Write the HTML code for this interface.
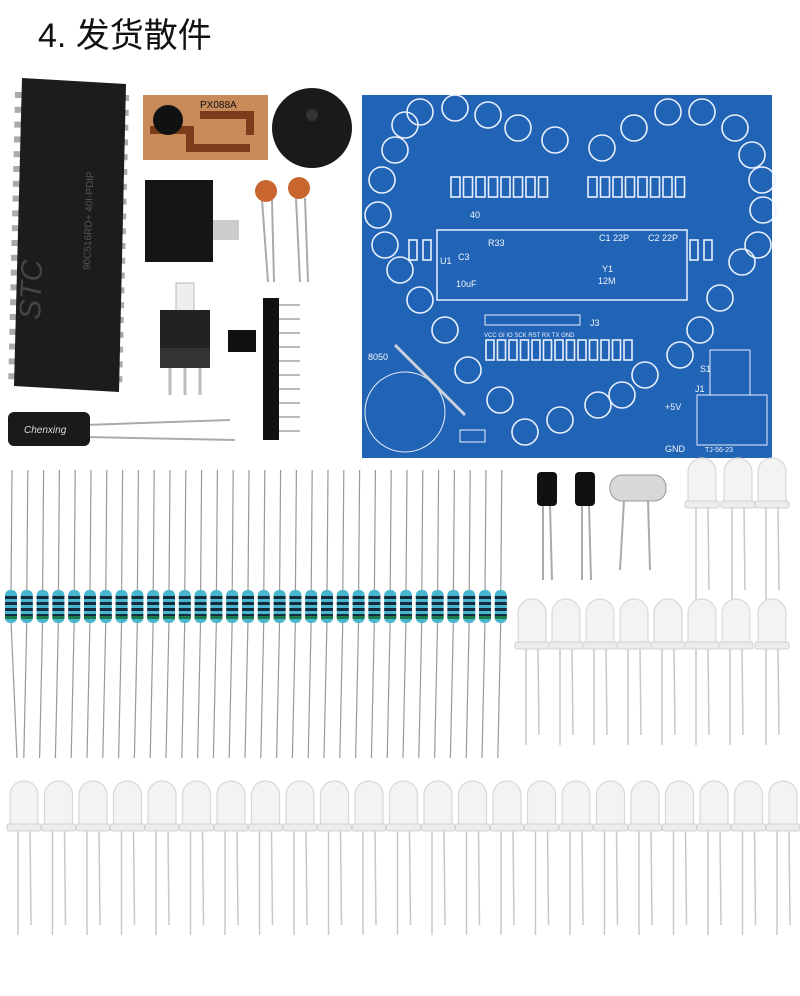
<!DOCTYPE html>
<html><head><meta charset="utf-8"><style>
html,body{margin:0;padding:0;background:#fff;width:800px;height:996px;overflow:hidden}
.t{position:absolute;left:38px;top:8px;font:34px "Liberation Sans","Noto Sans CJK SC",sans-serif;color:#111}
svg{position:absolute;left:0;top:0}
</style></head><body>
<svg id="s" width="800" height="996" viewBox="0 0 800 996" xmlns="http://www.w3.org/2000/svg">
<g id="chippins"></g>
<polygon points="22,78 126,84 119,392 14,386" fill="#1c1c1c"/>
<text x="0" y="0" transform="translate(40,320) rotate(-88)" font-family="Liberation Sans" font-size="30" font-style="italic" fill="#444">STC</text>
<text x="0" y="0" transform="translate(90,270) rotate(-88)" font-family="Liberation Sans" font-size="10" fill="#555">90C516RD+ 40I-PDIP</text>
<rect x="143" y="95" width="125" height="65" fill="#c98a5a"/>
<path d="M150 130 h40 v18 h60 M200 115 h50 v20" stroke="#7a3c1a" stroke-width="8" fill="none"/>
<circle cx="168" cy="120" r="15" fill="#111"/>
<text x="200" y="108" font-family="Liberation Sans" font-size="10" fill="#111">PX088A</text>
<circle cx="312" cy="128" r="40" fill="#1a1a1a"/>
<circle cx="312" cy="115" r="6" fill="#333"/>
<rect x="145" y="180" width="68" height="82" fill="#151515"/>
<rect x="213" y="220" width="26" height="20" fill="#ccc"/>
<line x1="262" y1="200" x2="268" y2="282" stroke="#aaa" stroke-width="2"/>
<line x1="272" y1="200" x2="274" y2="282" stroke="#aaa" stroke-width="2"/>
<circle cx="266" cy="191" r="11" fill="#c9652e"/>
<line x1="296" y1="198" x2="300" y2="282" stroke="#aaa" stroke-width="2"/>
<line x1="305" y1="198" x2="308" y2="282" stroke="#aaa" stroke-width="2"/>
<circle cx="299" cy="188" r="11" fill="#c9652e"/>
<rect x="176" y="283" width="18" height="30" fill="#eee" stroke="#bbb"/>
<rect x="160" y="310" width="50" height="40" fill="#222"/>
<rect x="160" y="348" width="50" height="20" fill="#333"/>
<line x1="170" y1="368" x2="170" y2="395" stroke="#bbb" stroke-width="3"/>
<line x1="185" y1="368" x2="185" y2="395" stroke="#bbb" stroke-width="3"/>
<line x1="200" y1="368" x2="200" y2="395" stroke="#bbb" stroke-width="3"/>
<rect x="228" y="330" width="28" height="22" fill="#111"/>
<rect x="263" y="298" width="16" height="142" fill="#111"/>
<g id="pins"></g>
<line x1="85" y1="425" x2="230" y2="420" stroke="#aaa" stroke-width="2"/>
<line x1="85" y1="437" x2="235" y2="440" stroke="#aaa" stroke-width="2"/>
<rect x="8" y="412" width="82" height="34" rx="6" fill="#1a1a1a"/>
<text x="24" y="433" font-family="Liberation Sans" font-size="10" font-style="italic" fill="#ddd">Chenxing</text>
<rect x="362" y="95" width="410" height="363" fill="#2163b5"/>
<g id="pcb" stroke="#e8f0ff" fill="none" stroke-width="1.6"></g>
<g font-family="Liberation Sans" font-size="9" fill="#f0f5ff">
<rect x="437" y="230" width="250" height="70" fill="none" stroke="#e8f0ff" stroke-width="1.5"/>
<text x="488" y="246">R33</text><text x="458" y="260">C3</text><text x="599" y="241">C1 22P</text><text x="648" y="241">C2 22P</text>
<text x="602" y="272">Y1</text><text x="598" y="284">12M</text><text x="456" y="287">10uF</text><text x="440" y="264">U1</text>
<rect x="485" y="315" width="95" height="10" fill="none" stroke="#e8f0ff"/>
<text x="590" y="326">J3</text>
<text x="484" y="337" font-size="6">VCC GI IO SCK RST RX TX GND</text>
<text x="470" y="218">40</text><text x="368" y="360">8050</text>
<text x="665" y="410">+5V</text><text x="665" y="452">GND</text><text x="705" y="452" font-size="7">TJ-56-23</text>
<text x="695" y="392">J1</text><text x="700" y="372">S1</text>
<rect x="460" y="430" width="25" height="12" fill="none" stroke="#e8f0ff"/>
<circle cx="405" cy="412" r="40" fill="none" stroke="#e8f0ff"/>
<line x1="395" y1="345" x2="465" y2="415" stroke="#c8d0dc" stroke-width="3"/>
<rect x="710" y="350" width="40" height="45" fill="none" stroke="#e8f0ff"/>
<rect x="697" y="395" width="70" height="50" fill="none" stroke="#e8f0ff"/>
</g>
<line x1="543" y1="505" x2="543" y2="580" stroke="#aaa" stroke-width="2"/><line x1="550" y1="505" x2="552" y2="580" stroke="#aaa" stroke-width="2"/>
<rect x="537" y="472" width="20" height="34" rx="4" fill="#111"/>
<line x1="582" y1="505" x2="582" y2="580" stroke="#aaa" stroke-width="2"/><line x1="589" y1="505" x2="591" y2="580" stroke="#aaa" stroke-width="2"/>
<rect x="575" y="472" width="20" height="34" rx="4" fill="#111"/>
<line x1="624" y1="500" x2="620" y2="570" stroke="#aaa" stroke-width="2"/><line x1="648" y1="500" x2="650" y2="570" stroke="#aaa" stroke-width="2"/>
<rect x="610" y="475" width="56" height="26" rx="12" fill="#d8d8d8" stroke="#999"/>
<g id="res"></g>
<g id="leds"></g>
</svg>
<div class="t">4. 发货散件</div>
<script>
var NS="http://www.w3.org/2000/svg";
function el(p,t,a){var e=document.createElementNS(NS,t);for(var k in a)e.setAttribute(k,a[k]);p.appendChild(e);return e;}
var cp=document.getElementById('chippins');
for(var i=0;i<20;i++){var y=92+i*14.8;el(cp,'rect',{x:15-i*0.35,y:y,width:10,height:6,fill:'#aaa'});el(cp,'rect',{x:119-i*0.35,y:y+3,width:10,height:6,fill:'#aaa'});}
var pins=document.getElementById('pins');
for(var i=0;i<10;i++){el(pins,'line',{x1:279,y1:305+i*14,x2:300,y2:305+i*14,stroke:'#bbb','stroke-width':2});}
var pcb=document.getElementById('pcb');
var ring=[[420,112],[455,108],[488,115],[518,128],[555,140],[602,148],[634,128],[668,112],[702,112],[735,128],[752,155],[762,180],[763,210],[758,245],[742,262],[720,298],[700,330],[680,355],[645,375],[622,395],[598,405],[560,420],[525,432],[500,400],[468,370],[445,330],[420,300],[400,270],[385,245],[378,215],[382,180],[395,150],[405,125]];
ring.forEach(function(p){el(pcb,'circle',{cx:p[0],cy:p[1],r:13});});
for(var i=0;i<8;i++){el(pcb,'rect',{x:451+i*12.5,y:177,width:9,height:20});el(pcb,'rect',{x:588+i*12.5,y:177,width:9,height:20});}
for(var i=0;i<13;i++){el(pcb,'rect',{x:486+i*11.5,y:340,width:8,height:20});}
el(pcb,'rect',{x:409,y:240,width:8,height:20});el(pcb,'rect',{x:423,y:240,width:8,height:20});
el(pcb,'rect',{x:690,y:240,width:8,height:20});el(pcb,'rect',{x:704,y:240,width:8,height:20});
var res=document.getElementById('res');
for(var i=0;i<32;i++){var x=11+i*15.8;
 el(res,'line',{x1:x+1,y1:470,x2:x,y2:592,stroke:'#999','stroke-width':1.2});
 el(res,'line',{x1:x,y1:620,x2:x+3-(i<1?-3:6),y2:758,stroke:'#999','stroke-width':1.2});
 el(res,'rect',{x:x-6,y:590,width:12,height:33,rx:5,fill:'#49b6d0'});
 for(var b=0;b<4;b++)el(res,'rect',{x:x-6,y:596+b*6,width:12,height:3,fill:'#152a3a'});
 el(res,'rect',{x:x-6,y:616,width:12,height:3,fill:'#1f7a4a'});}
var leds=document.getElementById('leds');
function led(cx,top,bottom){
 el(leds,'line',{x1:cx-6,y1:top+50,x2:cx-6,y2:bottom,stroke:'#c8c8c8','stroke-width':1.5});
 el(leds,'line',{x1:cx+6,y1:top+50,x2:cx+7,y2:bottom-10,stroke:'#c8c8c8','stroke-width':1.5});
 el(leds,'path',{d:'M'+(cx-14)+' '+(top+46)+' V'+(top+15)+' A14 14 0 0 1 '+(cx+14)+' '+(top+15)+' V'+(top+46)+' Z',fill:'#f3f3f3',stroke:'#d8d8d8','stroke-width':1.2});
 el(leds,'rect',{x:cx-17,y:top+44,width:34,height:7,rx:2,fill:'#ececec',stroke:'#d0d0d0'});}
[702,738,772].forEach(function(x){led(x,457,600);});
[532,566,600,634,668,702,736,772].forEach(function(x){led(x,598,745);});
for(var i=0;i<23;i++)led(24+i*34.5,780,935);
</script>
</body></html>
